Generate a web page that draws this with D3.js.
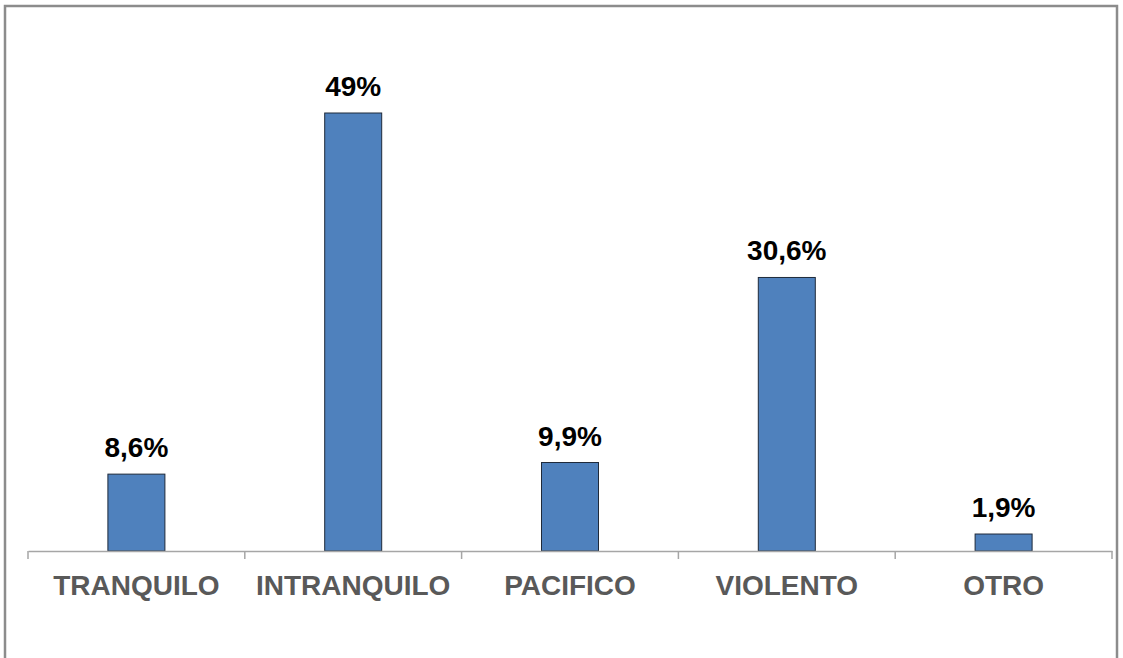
<!DOCTYPE html>
<html><head><meta charset="utf-8">
<script src="https://cdn.jsdelivr.net/npm/d3@7"></script>
<style>body{margin:0;background:#fff}svg{display:block}</style>
</head><body>
<svg id="c" width="1123" height="658"></svg>
<script>
const categories = ["TRANQUILO","INTRANQUILO","PACIFICO","VIOLENTO","OTRO"];
const values = [8.6, 49, 9.9, 30.6, 1.9];
const valueLabels = ["8,6%","49%","9,9%","30,6%","1,9%"];

const svg = d3.select("#c");
// outer frame
svg.append("rect").attr("x",5).attr("y",6).attr("width",1112).attr("height",660)
  .attr("fill","none").attr("stroke","#8c8c8c").attr("stroke-width",2.5);

const x = d3.scaleBand().domain(categories).range([28,1112]).paddingInner(0).paddingOuter(0);
const y = d3.scaleLinear().domain([0,49]).range([551,113]);
const bw = 57;

const g = svg.append("g");
g.selectAll("rect.bar").data(values).join("rect").attr("class","bar")
  .attr("x",(d,i)=>x(categories[i])+x.bandwidth()/2-bw/2)
  .attr("y",d=>y(d)).attr("width",bw).attr("height",d=>y(0)-y(d))
  .attr("fill","#4f81bd").attr("stroke","#1f2a3a").attr("stroke-width",1);

// axis line and ticks
const axis = d3.axisBottom(x).tickSize(0).tickFormat("");
const ag = svg.append("g").attr("transform","translate(0,551)").call(axis);
ag.select(".domain").attr("stroke","#a6a6a6").attr("stroke-width",1.5);
const tickPos = categories.map(c=>x(c)).concat([x.range()[1]]);
ag.selectAll("line.tk").data(tickPos).join("line").attr("class","tk")
  .attr("x1",d=>d).attr("x2",d=>d).attr("y1",0).attr("y2",8)
  .attr("stroke","#a6a6a6").attr("stroke-width",1.5);

svg.selectAll("text.cat").data(categories).join("text").attr("class","cat")
  .attr("x",d=>x(d)+x.bandwidth()/2).attr("y",595)
  .attr("text-anchor","middle").attr("font-family","Liberation Sans, Arial, sans-serif")
  .attr("font-weight","bold").attr("font-size",28).attr("fill","#595959").text(d=>d);

svg.selectAll("text.val").data(values).join("text").attr("class","val")
  .attr("x",(d,i)=>x(categories[i])+x.bandwidth()/2).attr("y",d=>y(d)-17)
  .attr("text-anchor","middle").attr("font-family","Liberation Sans, Arial, sans-serif")
  .attr("font-weight","bold").attr("font-size",28).attr("fill","#000").text((d,i)=>valueLabels[i]);
</script>
</body></html>
